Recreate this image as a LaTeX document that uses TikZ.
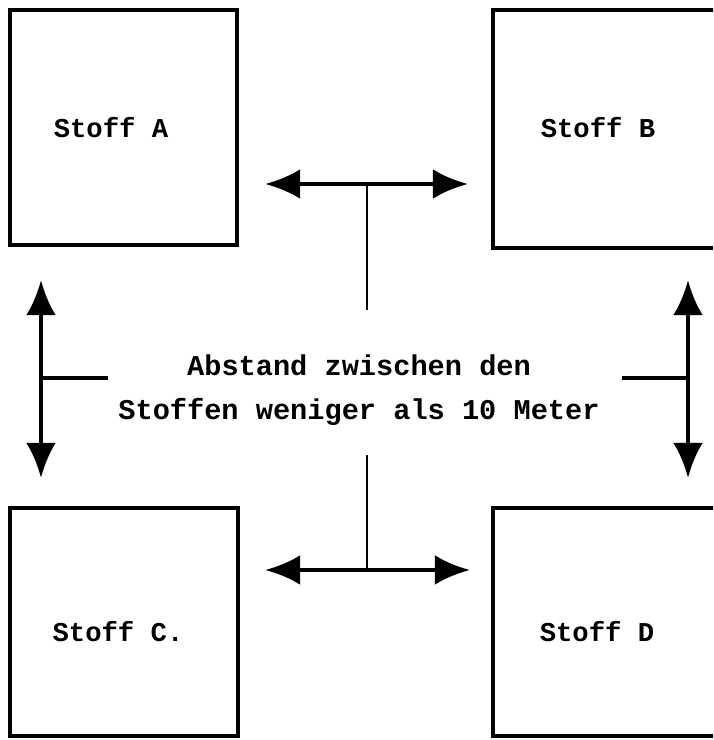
\documentclass[tikz,border=0pt]{standalone}
\usepackage{fontspec}
\setmonofont{Liberation Mono}
\usetikzlibrary{arrows.meta, positioning, calc}

\begin{document}
\begin{tikzpicture}[
    x=0.02cm, y=-0.02cm,
    stoffbox/.style={rectangle, draw, line width=1.8pt, inner sep=0pt},
    txt/.style={font=\ttfamily\bfseries\fontsize{15.5}{25}\selectfont, align=center, inner sep=0pt},
    arrow/.style={{Latex[length=20pt, width=17pt]}-{Latex[length=20pt, width=17pt]}, line width=2.6pt},
    stem/.style={line width=1.2pt}
]
\useasboundingbox (0,0) rectangle (713,740);
\clip (0,0) rectangle (713,740);
% the four boxes
\node[stoffbox, minimum width=4.54cm, minimum height=4.7cm]  (A) at (123.5,127.5) {};
\node[stoffbox, minimum width=4.54cm, minimum height=4.76cm] (B) at (606.5,129) {};
\node[stoffbox, minimum width=4.56cm, minimum height=4.56cm] (C) at (124,622) {};
\node[stoffbox, minimum width=4.54cm, minimum height=4.56cm] (D) at (606.5,622) {};
\node[txt] (la) at (111,128) {Stoff A};
\node[txt] (lb) at (598,128) {Stoff B};
\node[txt] (lc) at (118,632) {Stoff C.};
\node[txt] (ld) at (597,632) {Stoff D};
% text in the middle
\node[txt, font=\ttfamily\bfseries\fontsize{16.3}{25}\selectfont] (dist) at (359,390) {Abstand zwischen den\\Stoffen weniger als 10 Meter};
% arrows
\coordinate (tl) at (265,184);
\coordinate (tr) at (468,184);
\coordinate (tm) at (367,184);
\coordinate (ts) at (367,310);
\coordinate (bl) at (265,570);
\coordinate (br) at (470,570);
\coordinate (bm) at (367,570);
\coordinate (bs) at (367,455);
\coordinate (lt) at (41,280);
\coordinate (lb') at (41,478);
\coordinate (lm) at (41,378);
\coordinate (ls) at (108,378);
\coordinate (rt) at (688,280);
\coordinate (rb) at (688,478);
\coordinate (rm) at (688,378);
\coordinate (rs) at (622,378);
\draw[arrow] (tl) -- (tr);
\draw[stem] (tm) -- (ts);
\draw[arrow] (bl) -- (br);
\draw[stem] (bm) -- (bs);
\draw[arrow] (lt) -- (lb');
\draw[stem, line width=2pt] (lm) -- (ls);
\draw[arrow] (rt) -- (rb);
\draw[stem, line width=2pt] (rm) -- (rs);
\end{tikzpicture}
\end{document}
